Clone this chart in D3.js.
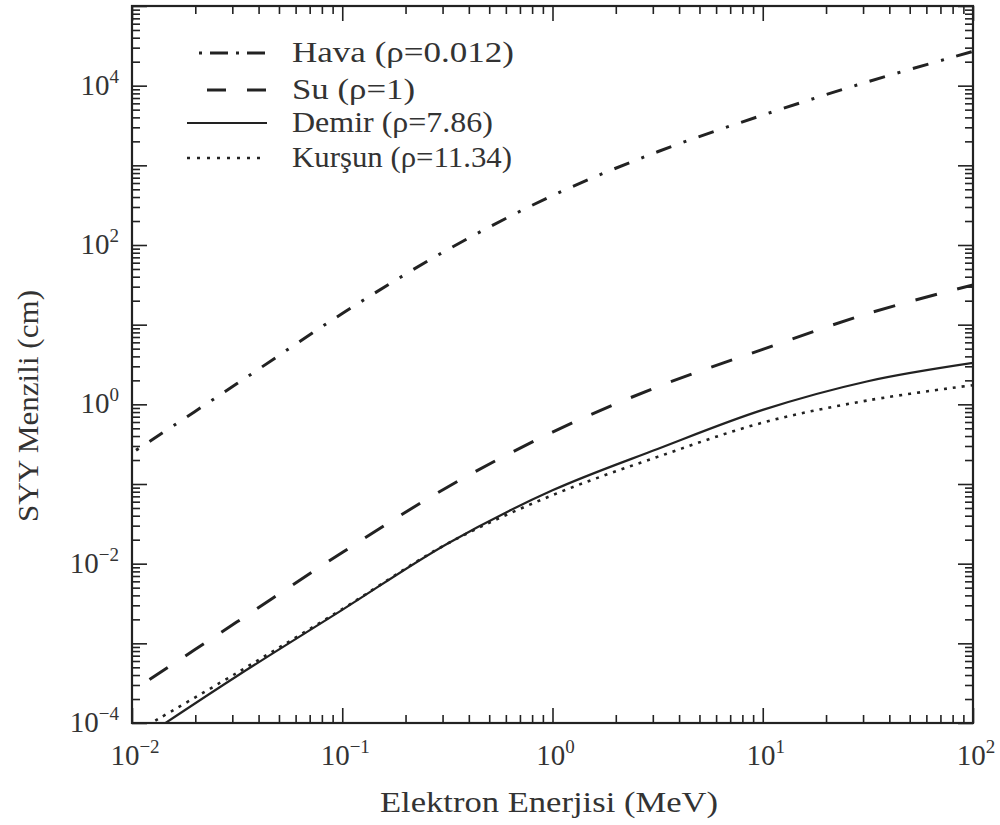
<!DOCTYPE html>
<html>
<head>
<meta charset="utf-8">
<script src="https://cdn.jsdelivr.net/npm/d3@7"></script>
<style>
  html, body { margin: 0; padding: 0; background: #fff; }
  svg { display: block; }
  text { font-family: "Liberation Serif", "Times New Roman", Times, Tinos, "Nimbus Roman", serif; fill: #333; }
</style>
</head>
<body>
<svg id="chart" width="1000" height="825"></svg>
<script>
// Electron energy (MeV) at half-decade steps
const energies = [0.01, 0.0316, 0.1, 0.316, 1, 3.16, 10, 31.6, 100];

// CSDA range (cm) for each material
const havaRange   = [0.245, 1.82, 13.8, 87, 417, 1480, 4270, 11200, 26900];
const suRange     = [2.51e-4, 1.86e-3, 0.0138, 0.0912, 0.447, 1.66, 4.9, 13.8, 31.6];
const demirRange  = [5.25e-5, 3.89e-4, 2.63e-3, 0.0178, 0.0832, 0.275, 0.851, 1.95, 3.31];
const kursunRange = [7.24e-5, 4.27e-4, 2.69e-3, 0.0178, 0.0724, 0.219, 0.589, 1.12, 1.74];

const seriesNames = ["Hava (ρ=0.012)", "Su (ρ=1)", "Demir (ρ=7.86)", "Kurşun (ρ=11.34)"];

// Axis tick exponents
const xTickExps = [-2, -1, 0, 1, 2];
const yLabelExps = [-4, -2, 0, 2, 4];
const yMajorExps = [-4, -3, -2, -1, 0, 1, 2, 3, 4, 5];

const xTitle = "Elektron Enerjisi (MeV)";
const yTitle = "SYY Menzili (cm)";

const svg = d3.select("#chart");
const plot = { left: 132, right: 973, top: 6, bottom: 723 };

const x = d3.scaleLog().domain([1e-2, 1e2]).range([plot.left, plot.right]);
const y = d3.scaleLog().domain([1e-4, 1e5]).range([plot.bottom, plot.top]);

svg.append("defs").append("clipPath").attr("id", "plotClip")
  .append("rect")
  .attr("x", plot.left).attr("y", plot.top)
  .attr("width", plot.right - plot.left).attr("height", plot.bottom - plot.top);

// Curves
const styles = [
  { values: havaRange,   width: 3,   dash: "3,13,16,13", offset: 40 },
  { values: suRange,     width: 3,   dash: "22,21",      offset: 22 },
  { values: demirRange,  width: 2.2, dash: null,         offset: 0 },
  { values: kursunRange, width: 2.6, dash: "3,6",        offset: 0 }
];

const line = d3.line()
  .x(d => x(d[0]))
  .y(d => y(d[1]))
  .curve(d3.curveCatmullRom.alpha(0.5));

const curves = svg.append("g").attr("clip-path", "url(#plotClip)");
styles.forEach(s => {
  const pts = energies.map((e, i) => [e, s.values[i]]);
  const p = curves.append("path")
    .attr("d", line(pts))
    .attr("fill", "none")
    .attr("stroke", "#222")
    .attr("stroke-width", s.width);
  if (s.dash) p.attr("stroke-dasharray", s.dash).attr("stroke-dashoffset", s.offset);
});

// Axes on all four sides, ticks pointing inward
const majorLen = 15, minorLen = 8;
const xMinor = [];
for (let e = -2; e < 2; e++) for (let k = 2; k <= 9; k++) xMinor.push(k * Math.pow(10, e));
const yMinor = [];
for (let e = -4; e < 5; e++) for (let k = 2; k <= 9; k++) yMinor.push(k * Math.pow(10, e));
const xMajor = xTickExps.map(e => Math.pow(10, e));
const yMajor = yMajorExps.map(e => Math.pow(10, e));

function axisGroup(axis, tx, ty) {
  const g = svg.append("g").attr("transform", `translate(${tx},${ty})`).call(axis);
  g.selectAll("text").remove();
  g.select(".domain").remove();
  g.selectAll(".tick line").attr("stroke", "#222").attr("stroke-width", 1.6);
  return g;
}

// bottom
axisGroup(d3.axisTop(x).tickValues(xMajor).tickSize(majorLen), 0, plot.bottom);
axisGroup(d3.axisTop(x).tickValues(xMinor).tickSize(minorLen), 0, plot.bottom);
// top
axisGroup(d3.axisBottom(x).tickValues(xMajor).tickSize(majorLen), 0, plot.top);
axisGroup(d3.axisBottom(x).tickValues(xMinor).tickSize(minorLen), 0, plot.top);
// left
axisGroup(d3.axisRight(y).tickValues(yMajor).tickSize(majorLen), plot.left, 0);
axisGroup(d3.axisRight(y).tickValues(yMinor).tickSize(minorLen), plot.left, 0);
// right
axisGroup(d3.axisLeft(y).tickValues(yMajor).tickSize(majorLen), plot.right, 0);
axisGroup(d3.axisLeft(y).tickValues(yMinor).tickSize(minorLen), plot.right, 0);

// frame
svg.append("rect")
  .attr("x", plot.left).attr("y", plot.top)
  .attr("width", plot.right - plot.left).attr("height", plot.bottom - plot.top)
  .attr("fill", "none").attr("stroke", "#222").attr("stroke-width", 2.2);

// Tick labels as 10 with a superscript exponent
function powerLabel(g, exp) {
  g.append("tspan").text("10");
  g.append("tspan")
    .attr("dy", -12)
    .attr("font-size", 19)
    .text(exp < 0 ? "\u2212" + Math.abs(exp) : String(exp));
}

xTickExps.forEach(e => {
  const t = svg.append("text")
    .attr("x", x(Math.pow(10, e)) + 3)
    .attr("y", 765)
    .attr("text-anchor", "middle")
    .attr("font-size", 29);
  powerLabel(t, e);
});

yLabelExps.forEach(e => {
  const t = svg.append("text")
    .attr("x", 119)
    .attr("y", y(Math.pow(10, e)) + 9)
    .attr("text-anchor", "end")
    .attr("font-size", 29);
  powerLabel(t, e);
});

// Axis titles
svg.append("text")
  .attr("x", 549).attr("y", 812)
  .attr("text-anchor", "middle")
  .attr("font-size", 29)
  .attr("textLength", 338).attr("lengthAdjust", "spacingAndGlyphs")
  .text(xTitle);

svg.append("text")
  .attr("transform", "translate(38,406) rotate(-90)")
  .attr("text-anchor", "middle")
  .attr("font-size", 29)
  .attr("textLength", 232).attr("lengthAdjust", "spacingAndGlyphs")
  .text(yTitle);

// Legend
const legendRows = [
  { y: 53,  x1: 199, dash: "3,8,18,8", width: 3 },
  { y: 90,  x1: 207, dash: "19,21",    width: 3 },
  { y: 123, x1: 187, dash: null,       width: 2.2 },
  { y: 158, x1: 187, dash: "3,7",      width: 2.6 }
];
const legendTextWidths = [222, 123, 201, 220];
const legend = svg.append("g");
legendRows.forEach((r, i) => {
  const l = legend.append("line")
    .attr("x1", r.x1).attr("x2", 267)
    .attr("y1", r.y).attr("y2", r.y)
    .attr("stroke", "#222").attr("stroke-width", r.width);
  if (r.dash) l.attr("stroke-dasharray", r.dash);
  legend.append("text")
    .attr("x", 292).attr("y", r.y + 9)
    .attr("font-size", 30)
    .attr("textLength", legendTextWidths[i]).attr("lengthAdjust", "spacingAndGlyphs")
    .text(seriesNames[i]);
});
</script>
</body>
</html>
